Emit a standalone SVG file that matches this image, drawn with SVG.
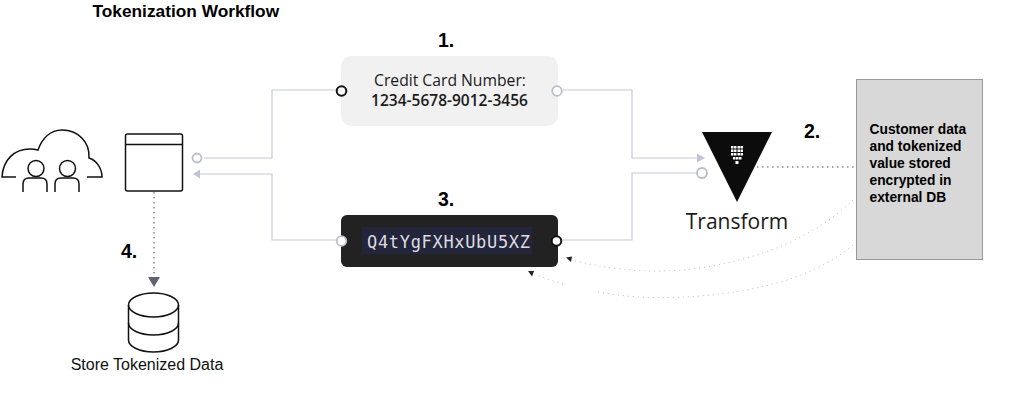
<svg xmlns="http://www.w3.org/2000/svg" width="1013" height="402" viewBox="0 0 1013 402">
<style>
.h{font-family:"Liberation Sans",Arial,sans-serif;font-weight:700;fill:#000}
.n{font-size:19.500px}
.c{fill:none;stroke:#c8cad8;stroke-width:1.200}
.d{fill:none;stroke:#8a8d9a;stroke-width:1.500;stroke-dasharray:1.500 3.500}
.f{fill:none;stroke:#bdbdc2;stroke-width:1;stroke-dasharray:1 4}
.i{fill:none;stroke:#111;stroke-width:1.500}
.o{font-family:"Open Sans",sans-serif;fill:#1a1a1a}
</style>
<rect width="1013" height="402" fill="#fff"/>
<text class="h" x="92.500" y="16.500" font-size="17.300">Tokenization Workflow</text>
<g id="connectors">
<path class="c" d="M204 158H272V90H336"/>
<path class="c" d="M563 90H632V158H697"/>
<path class="c" d="M198 174H272V240H336"/>
<path class="c" d="M562 240H632V173H696"/>
<path d="M697 153.500L705 158L697 162.500Z" fill="#c0c3d3"/>
<path d="M200 169.500L193 174L200 178.500Z" fill="#c0c3d3"/>
<path class="d" d="M154 192V278"/>
<path d="M148 277H160L154 287Z" fill="#5f6270"/>
<path class="d" d="M757 167H855"/>
<path d="M859 163L856 167L859 171Z" fill="#7d808c"/>
<path class="f" d="M853 200C815 237 760 259 700 268C660 274 615 271 571 260"/>
<path class="f" d="M853 245C815 277 760 291 700 296C665 299 630 298 598 292"/>
<path class="f" d="M563 284C553 281 544 278 534 274"/>
<path d="M566 257.500L572 256.500L571 262Z" fill="#222"/>
<path d="M528 271L534 271L532 276.500Z" fill="#222"/>
</g>
<g id="users">
<path class="i" d="M16 177H2C3 160 14 149 30 149Q34 149 38 150C42 139 50 130 62 130C78 130 90 142 89 158C96 160 102 168 102 177H87"/>
<circle class="i" cx="36" cy="168.500" r="8"/>
<circle class="i" cx="67.500" cy="168.500" r="8"/>
<path class="i" d="M23 192V184Q23 178 29 178H41Q47 178 47 184V192"/>
<path class="i" d="M55 192V184Q55 178 61 178H73Q79 178 79 184V192"/>
</g>
<g id="browser">
<rect class="i" x="125.500" y="134" width="57" height="57" rx="2"/>
<path class="i" d="M125.500 144.500H182.500"/>
<circle cx="197" cy="158" r="4.500" fill="#fff" stroke="#b9bccb" stroke-width="1.800"/>
</g>
<g id="database">
<path class="i" d="M128.500 305A25 12 0 0 1 178.500 305V340A25 12 0 0 1 128.500 340Z"/>
<path class="i" d="M128.500 305A25 12 0 0 0 178.500 305"/>
<path class="i" d="M128.500 323A25 12 0 0 0 178.500 323"/>
<text x="147" y="370" font-size="16" font-family="'Liberation Sans',Arial,sans-serif" fill="#111" text-anchor="middle">Store Tokenized Data</text>
</g>
<text class="h n" x="121" y="258">4.</text>
<g id="card">
<rect x="341" y="56" width="217" height="70" rx="10" fill="#f1f1f2"/>
<text class="o" text-anchor="middle"><tspan x="450" y="86" font-size="15.700">Credit Card Number:</tspan><tspan x="449.500" y="105.500" font-size="15.500" font-weight="600">1234-5678-9012-3456</tspan></text>
<circle cx="341.500" cy="91" r="4.800" fill="#fff" stroke="#111" stroke-width="2"/>
<circle cx="557" cy="91" r="4.800" fill="#fff" stroke="#b9bccb" stroke-width="1.800"/>
<text class="h n" x="438" y="47">1.</text>
</g>
<g id="token">
<rect x="341" y="215" width="217" height="52" rx="6" fill="#222"/>
<rect x="362" y="227" width="170" height="27" fill="#23253a"/>
<text x="367" y="248" font-size="17" font-family="'DejaVu Sans Mono','Liberation Mono',monospace" fill="#dcdce2" textLength="163">Q4tYgFXHxUbU5XZ</text>
<circle cx="341.500" cy="241" r="4.800" fill="#fff" stroke="#b9bccb" stroke-width="1.800"/>
<circle cx="556.500" cy="241" r="4.800" fill="#fff" stroke="#111" stroke-width="2"/>
<text class="h n" x="438" y="206">3.</text>
</g>
<g id="transform">
<path d="M702 132H772L737 202Z" fill="#0c0c0c"/>
<path d="M731 146h2.500v2.500h-2.500zM734 146h2.500v2.500h-2.500zM737.500 146h2.500v2.500h-2.500zM740.500 146h2.500v2.500h-2.500zM731 149.500h2.500v2.500h-2.500zM734 149.500h2.500v2.500h-2.500zM737.500 149.500h2.500v2.500h-2.500zM740.500 149.500h2.500v2.500h-2.500zM731 153h2.500v2.500h-2.500zM734 153h2.500v2.500h-2.500zM737.500 153h2.500v2.500h-2.500zM740.500 153h2.500v2.500h-2.500zM733 157h2.500v2.500h-2.500zM736 157h2.500v2.500h-2.500zM739 157h2.500v2.500h-2.500zM735.500 161h3v3h-3z" fill="#fff"/>
<circle cx="702" cy="173" r="5" fill="#fff" stroke="#b9bccb" stroke-width="1.800"/>
<text x="737" y="228.500" font-size="21" font-weight="500" font-family="'Open Sans',sans-serif" fill="#1a1a1a" text-anchor="middle">Transform</text>
<text class="h n" x="804" y="138">2.</text>
</g>
<g id="external-db">
<rect x="856.500" y="79.500" width="126" height="180" fill="#d8d8d8" stroke="#999"/>
<text class="h" font-size="13.800" fill="#111"><tspan x="869.500" y="134">Customer data</tspan><tspan x="869.500" y="151">and tokenized</tspan><tspan x="869.500" y="168">value stored</tspan><tspan x="869.500" y="185">encrypted in</tspan><tspan x="869.500" y="202">external DB</tspan></text>
</g>
</svg>
